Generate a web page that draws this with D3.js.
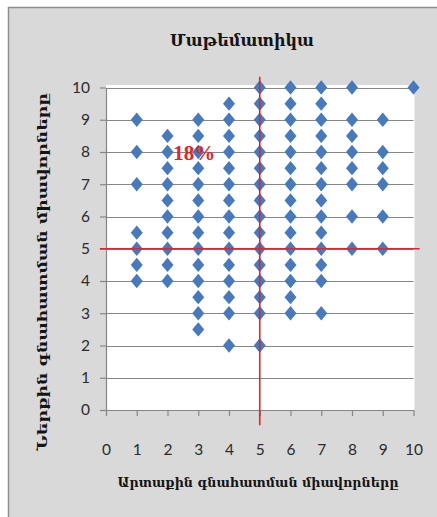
<!DOCTYPE html>
<html>
<head>
<meta charset="utf-8">
<script src="https://cdn.jsdelivr.net/npm/d3@7"></script>
<style>
  html, body { margin: 0; padding: 0; background: #ffffff; }
  svg { display: block; }
</style>
</head>
<body>
<svg id="chart" width="437" height="517"></svg>
<script>
// Chart texts
const chartTitle = "Մաթեմատիկա";
const xTitle = "Արտաքին գնահատման միավորները";
const yTitle = "Ներքին գնահատման միավորները";
const shareLabel = "18%";

// Tick values for both axes
const xTicks = [0, 1, 2, 3, 4, 5, 6, 7, 8, 9, 10];
const yTicks = [0, 1, 2, 3, 4, 5, 6, 7, 8, 9, 10];

// External score (x) for each column of points
const externalScores = [1, 2, 3, 4, 5, 6, 7, 8, 9, 10];

// Internal scores (y) observed for each external score
const internalAt1 = [4, 4.5, 5, 5.5, 7, 8, 9];
const internalAt2 = [4, 4.5, 5, 5.5, 6, 6.5, 7, 7.5, 8, 8.5];
const internalAt3 = [2.5, 3, 3.5, 4, 4.5, 5, 5.5, 6, 6.5, 7, 7.5, 8, 8.5, 9];
const internalAt4 = [2, 3, 3.5, 4, 4.5, 5, 5.5, 6, 6.5, 7, 7.5, 8, 8.5, 9, 9.5];
const internalAt5 = [2, 3, 3.5, 4, 4.5, 5, 5.5, 6, 6.5, 7, 7.5, 8, 8.5, 9, 9.5, 10];
const internalAt6 = [3, 3.5, 4, 4.5, 5, 5.5, 6, 6.5, 7, 7.5, 8, 8.5, 9, 9.5, 10];
const internalAt7 = [3, 4, 4.5, 5, 5.5, 6, 6.5, 7, 7.5, 8, 8.5, 9, 9.5, 10];
const internalAt8 = [5, 6, 7, 7.5, 8, 8.5, 9, 10];
const internalAt9 = [5, 6, 7, 7.5, 8, 9];
const internalAt10 = [10];
const internalColumns = [internalAt1, internalAt2, internalAt3, internalAt4, internalAt5,
                         internalAt6, internalAt7, internalAt8, internalAt9, internalAt10];

// Reference cut lines (threshold 5 on both axes) and label anchor
const cutX = 5;
const cutY = 5;
const vLineSpan = [-0.47, 10.33];
const hLineSpan = [-0.2, 10.2];
const labelAt = [2.87, 7.97];

const points = [];
externalScores.forEach((xv, i) => {
  internalColumns[i].forEach(yv => points.push({ x: xv, y: yv }));
});

const svg = d3.select("#chart");

// Chart area (gray panel with border on the visible edges)
svg.append("rect")
  .attr("x", 8.5).attr("y", 7.5)
  .attr("width", 440).attr("height", 520)
  .attr("fill", "#d9d9d9")
  .attr("stroke", "#8f8f8f")
  .attr("stroke-width", 1.5);

const x = d3.scaleLinear().domain([0, 10]).range([106, 413.5]);
const y = d3.scaleLinear().domain([0, 10]).range([410, 87.5]);

// Plot area
svg.append("rect")
  .attr("x", x(0)).attr("y", y(10) - 2.5)
  .attr("width", x(10) - x(0) + 1).attr("height", y(0) - y(10) + 2.5)
  .attr("fill", "#ffffff");

// Horizontal gridlines
svg.append("g")
  .selectAll("line")
  .data(yTicks.filter(v => v > 0))
  .join("line")
  .attr("x1", x(0)).attr("x2", x(10))
  .attr("y1", d => Math.round(y(d)) + 0.5).attr("y2", d => Math.round(y(d)) + 0.5)
  .attr("stroke", "#868686").attr("stroke-width", 1.2);

// Axes
const axisColor = "#868686";
const tickFont = "Lato, 'Open Sans', sans-serif";

const gx = svg.append("g")
  .attr("transform", `translate(0,${y(0)})`)
  .call(d3.axisBottom(x).tickValues(xTicks).tickSize(6).tickPadding(28).tickSizeOuter(0)
    .tickFormat(d3.format("d")));
gx.select(".domain").attr("stroke", axisColor).attr("stroke-width", 1.2);
gx.selectAll(".tick line").attr("stroke", axisColor).attr("stroke-width", 1.2);
gx.selectAll(".tick text")
  .attr("font-family", tickFont).attr("font-size", 15.5).attr("fill", "#2b2b2b");

const gy = svg.append("g")
  .attr("transform", `translate(${x(0)},0)`)
  .call(d3.axisLeft(y).tickValues(yTicks).tickSize(6).tickPadding(10).tickSizeOuter(0)
    .tickFormat(d3.format("d")));
gy.select(".domain").attr("stroke", axisColor).attr("stroke-width", 1.2);
gy.selectAll(".tick line").attr("stroke", axisColor).attr("stroke-width", 1.2);
gy.selectAll(".tick text")
  .attr("font-family", tickFont).attr("font-size", 15.5).attr("fill", "#2b2b2b");

// Diamond markers
const diamond = "M0,-7.2L6,0L0,7.2L-6,0Z";
svg.append("g")
  .selectAll("path")
  .data(points)
  .join("path")
  .attr("d", diamond)
  .attr("transform", d => `translate(${x(d.x)},${y(d.y)})`)
  .attr("fill", "#4679bd");

// Red cut lines
const red = "#e2232b";
svg.append("line")
  .attr("x1", x(cutX)).attr("x2", x(cutX))
  .attr("y1", y(vLineSpan[0])).attr("y2", y(vLineSpan[1]))
  .attr("stroke", red).attr("stroke-width", 1.6);
svg.append("line")
  .attr("x1", x(hLineSpan[0])).attr("x2", x(hLineSpan[1]))
  .attr("y1", y(cutY)).attr("y2", y(cutY))
  .attr("stroke", red).attr("stroke-width", 1.6);

// Share label
svg.append("text")
  .attr("x", x(labelAt[0])).attr("y", y(labelAt[1]))
  .attr("text-anchor", "middle").attr("dominant-baseline", "central")
  .attr("font-family", "'Liberation Serif', 'DejaVu Serif', serif")
  .attr("font-weight", "bold")
  .attr("font-size", 21)
  .attr("fill", red)
  .text(shareLabel);

// Titles
const armFont = "'DejaVu Serif', serif";
svg.append("text")
  .attr("x", 242).attr("y", 46)
  .attr("text-anchor", "middle")
  .attr("font-family", armFont).attr("font-weight", "bold").attr("font-size", 16)
  .attr("fill", "#141414")
  .text(chartTitle);

svg.append("text")
  .attr("x", 258).attr("y", 487)
  .attr("text-anchor", "middle")
  .attr("font-family", armFont).attr("font-weight", "bold").attr("font-size", 13)
  .attr("textLength", 281).attr("lengthAdjust", "spacingAndGlyphs")
  .attr("fill", "#141414")
  .text(xTitle);

svg.append("text")
  .attr("transform", "translate(47,272) rotate(-90)")
  .attr("text-anchor", "middle")
  .attr("font-family", armFont).attr("font-weight", "bold").attr("font-size", 13)
  .attr("textLength", 358).attr("lengthAdjust", "spacingAndGlyphs")
  .attr("fill", "#141414")
  .text(yTitle);
</script>
</body>
</html>
